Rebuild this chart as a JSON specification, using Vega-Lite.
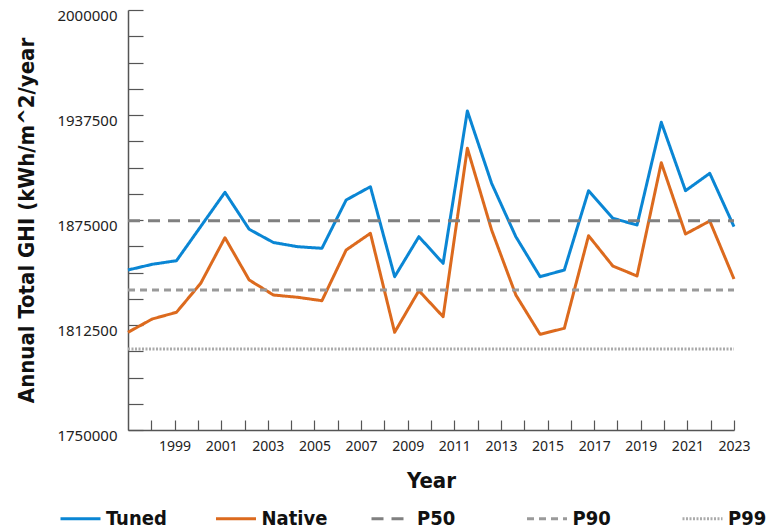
{
  "$schema": "https://vega.github.io/schema/vega-lite/v6.json",
  "autosize": "none",
  "width": 606,
  "height": 420,
  "padding": {"left": 128, "top": 10, "right": 32, "bottom": 102},
  "background": "white",
  "config": {"view": {"stroke": null}},
  "datasets": {
    "series": [
      {"year": 1997, "value": 1845238, "series": "Tuned"},
      {"year": 1998.04, "value": 1848631, "series": "Tuned"},
      {"year": 1999.08, "value": 1850774, "series": "Tuned"},
      {"year": 2000.12, "value": 1871131, "series": "Tuned"},
      {"year": 2001.16, "value": 1891488, "series": "Tuned"},
      {"year": 2002.2, "value": 1869464, "series": "Tuned"},
      {"year": 2003.24, "value": 1861607, "series": "Tuned"},
      {"year": 2004.28, "value": 1859107, "series": "Tuned"},
      {"year": 2005.32, "value": 1858155, "series": "Tuned"},
      {"year": 2006.36, "value": 1886905, "series": "Tuned"},
      {"year": 2007.4, "value": 1894821, "series": "Tuned"},
      {"year": 2008.44, "value": 1841250, "series": "Tuned"},
      {"year": 2009.48, "value": 1865060, "series": "Tuned"},
      {"year": 2010.52, "value": 1849226, "series": "Tuned"},
      {"year": 2011.56, "value": 1939881, "series": "Tuned"},
      {"year": 2012.6, "value": 1896845, "series": "Tuned"},
      {"year": 2013.64, "value": 1865060, "series": "Tuned"},
      {"year": 2014.68, "value": 1841250, "series": "Tuned"},
      {"year": 2015.72, "value": 1845238, "series": "Tuned"},
      {"year": 2016.76, "value": 1892440, "series": "Tuned"},
      {"year": 2017.8, "value": 1876012, "series": "Tuned"},
      {"year": 2018.84, "value": 1872024, "series": "Tuned"},
      {"year": 2019.88, "value": 1933155, "series": "Tuned"},
      {"year": 2020.92, "value": 1892440, "series": "Tuned"},
      {"year": 2021.96, "value": 1902798, "series": "Tuned"},
      {"year": 2023, "value": 1871012, "series": "Tuned"},
      {"year": 1997, "value": 1808155, "series": "Native"},
      {"year": 1998.04, "value": 1816071, "series": "Native"},
      {"year": 1999.08, "value": 1820060, "series": "Native"},
      {"year": 2000.12, "value": 1837321, "series": "Native"},
      {"year": 2001.16, "value": 1864464, "series": "Native"},
      {"year": 2002.2, "value": 1839286, "series": "Native"},
      {"year": 2003.24, "value": 1830357, "series": "Native"},
      {"year": 2004.28, "value": 1828988, "series": "Native"},
      {"year": 2005.32, "value": 1826964, "series": "Native"},
      {"year": 2006.36, "value": 1857143, "series": "Native"},
      {"year": 2007.4, "value": 1867083, "series": "Native"},
      {"year": 2008.44, "value": 1808155, "series": "Native"},
      {"year": 2009.48, "value": 1832917, "series": "Native"},
      {"year": 2010.52, "value": 1817440, "series": "Native"},
      {"year": 2011.56, "value": 1917679, "series": "Native"},
      {"year": 2012.6, "value": 1869048, "series": "Native"},
      {"year": 2013.64, "value": 1830357, "series": "Native"},
      {"year": 2014.68, "value": 1806964, "series": "Native"},
      {"year": 2015.72, "value": 1810536, "series": "Native"},
      {"year": 2016.76, "value": 1865655, "series": "Native"},
      {"year": 2017.8, "value": 1847619, "series": "Native"},
      {"year": 2018.84, "value": 1841667, "series": "Native"},
      {"year": 2019.88, "value": 1909107, "series": "Native"},
      {"year": 2020.92, "value": 1866667, "series": "Native"},
      {"year": 2021.96, "value": 1874405, "series": "Native"},
      {"year": 2023, "value": 1839881, "series": "Native"},
      {"year": 1997, "value": 1874600, "series": "P50"},
      {"year": 2023, "value": 1874600, "series": "P50"},
      {"year": 1997, "value": 1833333, "series": "P90"},
      {"year": 2023, "value": 1833333, "series": "P90"},
      {"year": 1997, "value": 1798214, "series": "P99"},
      {"year": 2023, "value": 1798214, "series": "P99"}
    ]
  },
  "data": {"name": "series"},
  "mark": {"type": "line", "strokeJoin": "round"},
  "encoding": {
    "x": {
      "field": "year",
      "type": "quantitative",
      "scale": {"domain": [1997, 2023], "nice": false, "zero": false},
      "axis": {
        "title": "Year",
        "values": [1998, 1999, 2000, 2001, 2002, 2003, 2004, 2005, 2006, 2007, 2008, 2009, 2010, 2011, 2012, 2013, 2014, 2015, 2016, 2017, 2018, 2019, 2020, 2021, 2022, 2023],
        "format": "d",
        "labelExpr": "datum.value % 2 === 1 ? datum.label : ''",
        "grid": false,
        "domainColor": "#555555",
        "domainWidth": 1.5,
        "tickColor": "#555555",
        "tickSize": -10,
        "tickWidth": 1.2,
        "labelPadding": 19,
        "labelFont": "Noto Sans",
        "labelFontSize": 14,
        "labelColor": "#222222",
        "labelOverlap": false,
        "labelFlush": false,
        "titleFont": "DejaVu Sans Condensed",
        "titleFontSize": 22,
        "titleFontWeight": "bold",
        "titleColor": "#111111",
        "titlePadding": 17
      }
    },
    "y": {
      "field": "value",
      "type": "quantitative",
      "scale": {"domain": [1750000, 2000000], "nice": false, "zero": false},
      "axis": {
        "title": "Annual Total GHI (kWh/m^2/year",
        "values": [1750000, 1765625, 1781250, 1796875, 1812500, 1828125, 1843750, 1859375, 1875000, 1890625, 1906250, 1921875, 1937500, 1953125, 1968750, 1984375, 2000000],
        "format": "d",
        "labelExpr": "datum.value % 62500 === 0 ? datum.label : ''",
        "grid": false,
        "domainColor": "#555555",
        "domainWidth": 1.5,
        "tickColor": "#555555",
        "tickSize": -15,
        "tickWidth": 1.2,
        "labelPadding": 26,
        "labelOffset": 5,
        "labelFont": "Noto Sans",
        "labelFontSize": 15,
        "labelColor": "#222222",
        "labelOverlap": false,
        "labelFlush": false,
        "titleFont": "DejaVu Sans Condensed",
        "titleFontSize": 22,
        "titleFontWeight": "bold",
        "titleColor": "#111111",
        "titlePadding": 18
      }
    },
    "color": {
      "field": "series",
      "type": "nominal",
      "scale": {"domain": ["Tuned", "Native", "P50", "P90", "P99"], "range": ["#0A86D4", "#DC6A1E", "#808080", "#9a9a9a", "#ababab"]},
      "legend": {
        "title": null,
        "orient": "none",
        "legendX": -69,
        "legendY": 487,
        "direction": "horizontal",
        "columns": 5,
        "gridAlign": "all",
        "columnPadding": 37.5,
        "symbolType": "stroke",
        "symbolSize": 1600,
        "symbolStrokeWidth": 3,
        "labelFont": "DejaVu Sans Condensed",
        "labelFontSize": 20,
        "labelFontWeight": "bold",
        "labelColor": "#111111",
        "labelOffset": 4,
        "labelLimit": 200
      }
    },
    "strokeDash": {
      "field": "series",
      "type": "nominal",
      "scale": {"domain": ["Tuned", "Native", "P50", "P90", "P99"], "range": [[1, 0], [1, 0], [12, 8], [7, 5], [2, 1.5]]},
      "legend": {
        "title": null,
        "orient": "none",
        "legendX": -69,
        "legendY": 487,
        "direction": "horizontal",
        "columns": 5,
        "gridAlign": "all",
        "columnPadding": 37.5,
        "symbolType": "stroke",
        "symbolSize": 1600,
        "labelFont": "DejaVu Sans Condensed",
        "labelFontSize": 20,
        "labelFontWeight": "bold",
        "labelColor": "#111111",
        "labelOffset": 4,
        "labelLimit": 200
      }
    },
    "strokeWidth": {
      "field": "series",
      "type": "nominal",
      "scale": {"domain": ["Tuned", "Native", "P50", "P90", "P99"], "range": [3, 3, 3, 1.6, 1.6]},
      "legend": null
    }
  }
}
